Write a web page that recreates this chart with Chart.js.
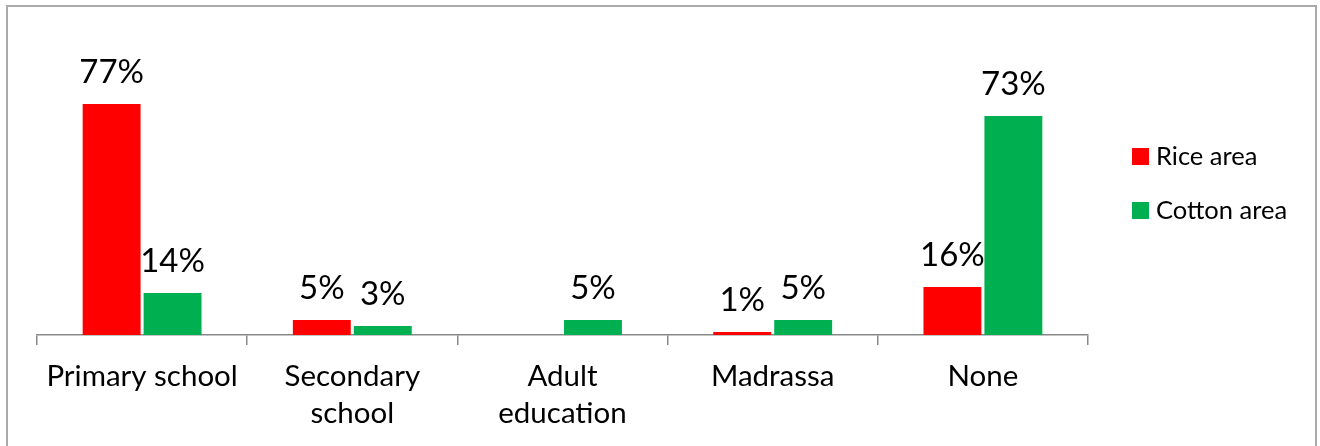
<!DOCTYPE html>
<html>
<head>
<meta charset="utf-8">
<script src="https://cdn.jsdelivr.net/npm/chart.js@4"></script>
<style>
  html, body { margin: 0; padding: 0; background: #fff; }
  #wrap { position: relative; width: 1320px; height: 446px; overflow: hidden; }
  #frame { position: absolute; left: 6px; top: 5px; width: 1307px; height: 460px; border: 2px solid #ababab; pointer-events: none; }
  canvas { position: absolute; left: 0; top: 0; }
</style>
</head>
<body>
<div id="wrap">
  <canvas id="chart" width="1320" height="446"></canvas>
  <div id="frame"></div>
</div>
<script>
const categories = ["Primary school", ["Secondary", "school"], ["Adult", "education"], "Madrassa", "None"];
const seriesNames = ["Rice area", "Cotton area"];
const riceArea = [77, 5, 0, 1, 16];
const cottonArea = [14, 3, 5, 5, 73];
const seriesColors = ["#ff0000", "#00b050"];
const yMax = 80;

const FONT = "Lato, 'Liberation Sans', sans-serif";

// value labels above each bar (zero values are not labelled)
const valueLabels = {
  id: "valueLabels",
  afterDatasetsDraw(chart) {
    const ctx = chart.ctx;
    ctx.save();
    ctx.font = "33px " + FONT;
    ctx.fillStyle = "#000";
    ctx.textAlign = "center";
    ctx.textBaseline = "alphabetic";
    chart.data.datasets.forEach((ds, i) => {
      chart.getDatasetMeta(i).data.forEach((bar, j) => {
        const v = ds.data[j];
        if (!v) return;
        ctx.fillText(v + "%", bar.x, bar.y - 21);
      });
    });
    ctx.restore();
  }
};

// legend on the right, drawn from the datasets
const sideLegend = {
  id: "sideLegend",
  afterDraw(chart) {
    const ctx = chart.ctx;
    ctx.save();
    ctx.font = "25.5px " + FONT;
    ctx.textBaseline = "middle";
    chart.data.datasets.forEach((ds, i) => {
      const y = 156 + i * 54;
      ctx.fillStyle = ds.backgroundColor;
      ctx.fillRect(1132, y - 8, 17, 17);
      ctx.fillStyle = "#000";
      ctx.fillText(ds.label, 1156, y + 1);
    });
    ctx.restore();
  }
};

new Chart(document.getElementById("chart"), {
  type: "bar",
  data: {
    labels: categories,
    datasets: [
      { label: seriesNames[0], data: riceArea, backgroundColor: seriesColors[0] },
      { label: seriesNames[1], data: cottonArea, backgroundColor: seriesColors[1] }
    ]
  },
  options: {
    responsive: false,
    animation: false,
    devicePixelRatio: 1,
    categoryPercentage: 0.58,
    barPercentage: 0.95,
    layout: { padding: { left: 37, right: 232, top: 95, bottom: 0 } },
    plugins: { legend: { display: false }, tooltip: { enabled: false } },
    scales: {
      x: {
        afterFit(scale) { scale.height = 111; },
        grid: { offset: true, drawOnChartArea: false, color: "#898989", tickLength: 10, lineWidth: 1.5 },
        border: { color: "#898989", width: 1.5 },
        ticks: { color: "#000", font: { family: FONT, size: 29.5, lineHeight: 1.26 }, padding: 13, maxRotation: 0, autoSkip: false }
      },
      y: { display: false, min: 0, max: yMax }
    }
  },
  plugins: [valueLabels, sideLegend]
});
</script>
</body>
</html>
